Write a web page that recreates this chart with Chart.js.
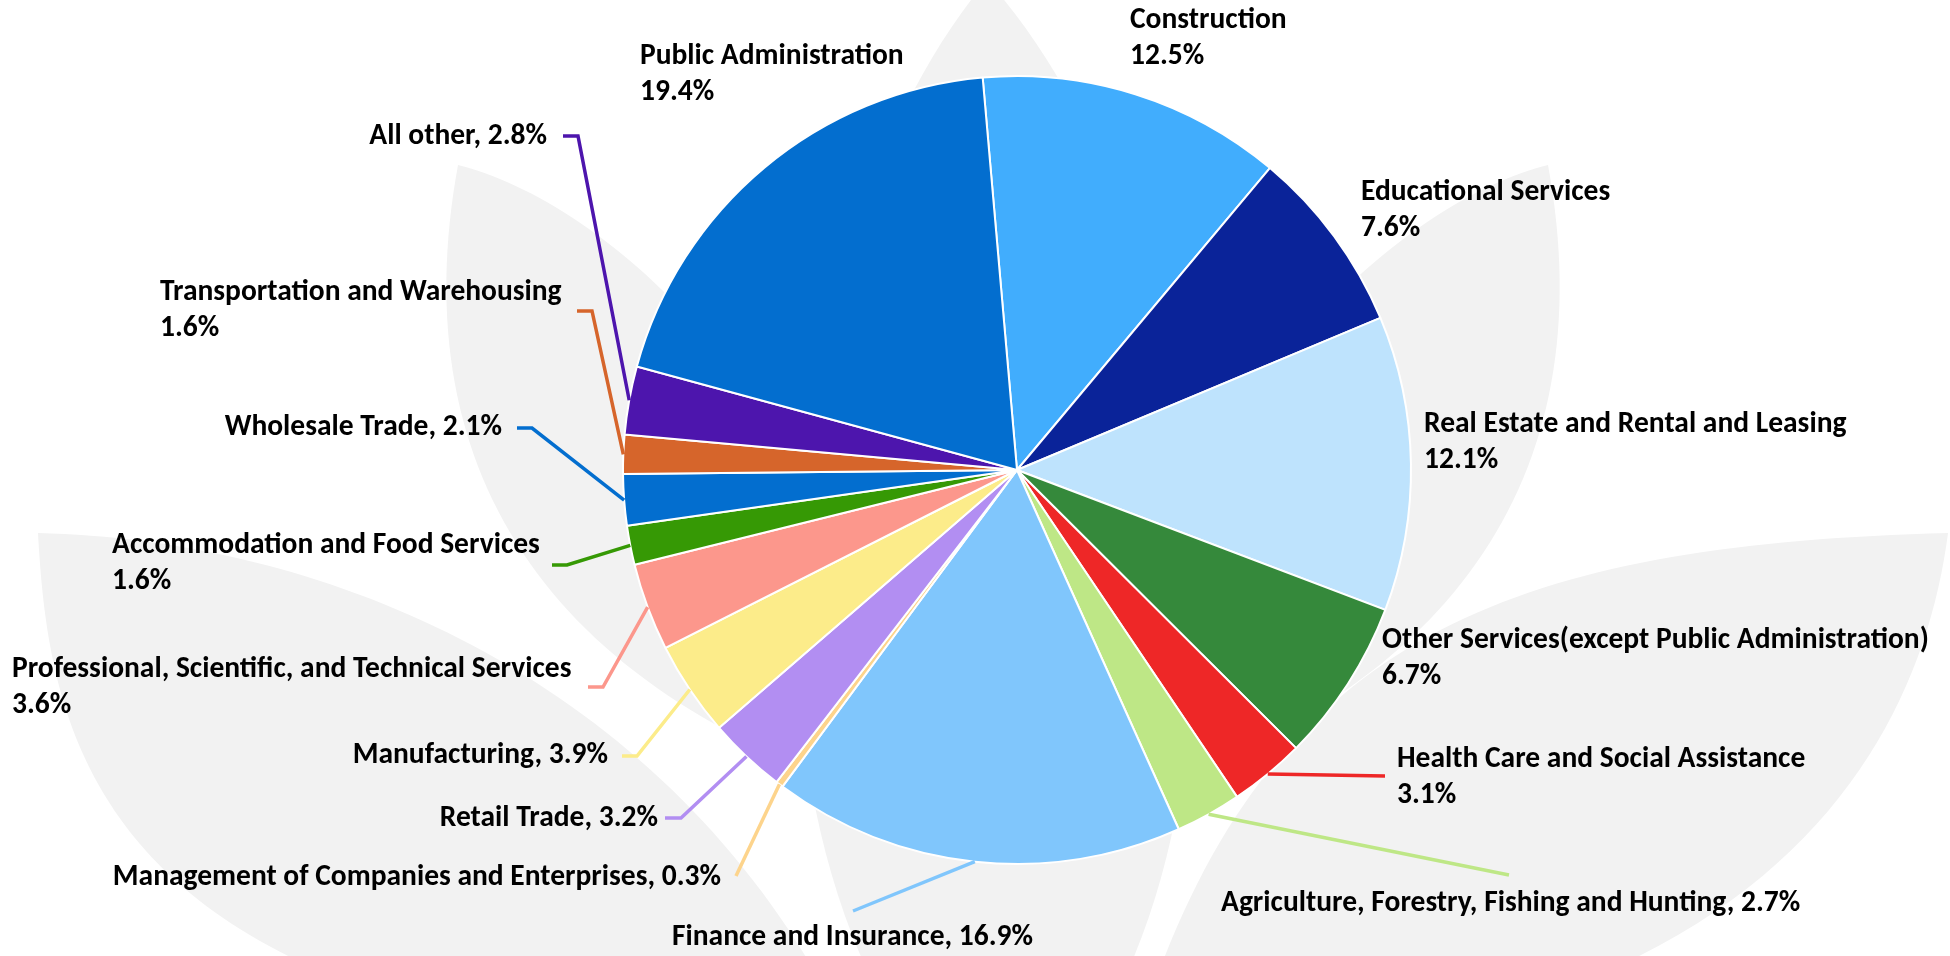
<!DOCTYPE html>
<html>
<head>
<meta charset="utf-8">
<script src="https://cdn.jsdelivr.net/npm/chart.js@4.4.1/dist/chart.umd.min.js"></script>
<style>
html, body { margin: 0; padding: 0; background: #fff; }
#wrap { position: relative; width: 1950px; height: 956px; }
</style>
</head>
<body>
<div id="wrap"><canvas id="myChart"></canvas></div>
<script>
// slices, clockwise from 12 o'clock
let industryNames = ['Construction',
    'Educational Services',
    'Real Estate and Rental and Leasing',
    'Other Services(except Public Administration)',
    'Health Care and Social Assistance',
    'Agriculture, Forestry, Fishing and Hunting',
    'Finance and Insurance',
    'Management of Companies and Enterprises',
    'Retail Trade',
    'Manufacturing',
    'Professional, Scientific, and Technical Services',
    'Accommodation and Food Services',
    'Wholesale Trade',
    'Transportation and Warehousing',
    'All other',
    'Public Administration'];

let industryShares = [12.5, 7.6, 12.1, 6.7, 3.1, 2.7, 16.9, 0.3,
    3.2, 3.9, 3.6, 1.6, 2.1, 1.6, 2.8, 19.4];

let industryColors = ['#41adfd', '#0a2399', '#bee3fd', '#35893b',
    '#ee2727', '#bee786', '#80c6fc', '#fdd48c',
    '#b28ef2', '#fcec8a', '#fc978c', '#369905',
    '#036ecf', '#d6652b', '#4d15ad', '#036ecf'];

// where each label sits, px from the pie centre (for a 394px radius)
// split: name and % on two lines; elbow/tick: leader line bend and end
const labelSpots = [
    { x: 113, y: -449, align: 'left', split: true },
    { x: 344, y: -277, align: 'left', split: true },
    { x: 407, y: -45, align: 'left', split: true },
    { x: 365, y: 171, align: 'left', split: true },
    { x: 380, y: 290, align: 'left', split: true, elbow: [368, 306] },
    { x: 204, y: 434, align: 'left', elbow: [492, 405] },
    { x: -345, y: 468, align: 'left', elbow: [-164, 441] },
    { x: -296, y: 408, align: 'right', elbow: [-281, 406] },
    { x: -359, y: 349, align: 'right', elbow: [-336, 348], tick: -352 },
    { x: -409, y: 286, align: 'right', elbow: [-380, 286], tick: -395 },
    { x: -1005, y: 200, align: 'left', split: true, elbow: [-414, 217], tick: -429 },
    { x: -905, y: 76, align: 'left', split: true, elbow: [-450, 95], tick: -465 },
    { x: -515, y: -42, align: 'right', elbow: [-485, -42], tick: -500 },
    { x: -857, y: -177, align: 'left', split: true, elbow: [-425, -159], tick: -440 },
    { x: -470, y: -333, align: 'right', elbow: [-439, -334], tick: -454 },
    { x: -377, y: -413, align: 'left', split: true }
];

const fontFamily = "Carlito, 'Liberation Sans Narrow', 'Open Sans', sans-serif";

// faint lotus petals behind the pie
const petals = [
    [[987, -20], [760, 250], [700, 900], [1000, 1150], [1290, 900], [1230, 250]],
    [[458, 165], [400, 480], [560, 700], [900, 800], [850, 400], [600, 200]],
    [[1548, 165], [1606, 480], [1446, 700], [1106, 800], [1156, 400], [1406, 200]],
    [[38, 533], [350, 540], [700, 700], [860, 1060], [100, 1050], [50, 750]],
    [[1948, 533], [1500, 545], [1250, 640], [1130, 1060], [1760, 1050], [1920, 750]]
];

const lotusPlugin = {
    id: 'lotus',
    beforeDraw(chart) {
        const ctx = chart.ctx;
        ctx.save();
        ctx.fillStyle = '#f2f2f2';
        petals.forEach(p => {
            ctx.beginPath();
            ctx.moveTo(p[0][0], p[0][1]);
            ctx.bezierCurveTo(p[1][0], p[1][1], p[2][0], p[2][1], p[3][0], p[3][1]);
            ctx.bezierCurveTo(p[4][0], p[4][1], p[5][0], p[5][1], p[0][0], p[0][1]);
            ctx.closePath();
            ctx.fill();
        });
        ctx.restore();
    }
};

const labelPlugin = {
    id: 'leaderLabels',
    afterDatasetsDraw(chart) {
        const ctx = chart.ctx;
        const meta = chart.getDatasetMeta(0);
        ctx.save();
        ctx.font = 'bold 28px ' + fontFamily;
        let fontSize = 28 * 422 / ctx.measureText('Real Estate and Rental and Leasing').width;
        fontSize = Math.min(fontSize, 30);
        meta.data.forEach((arc, i) => {
            const p = arc.getProps(['x', 'y', 'startAngle', 'endAngle', 'outerRadius'], true);
            const k = p.outerRadius / 394;
            const spot = labelSpots[i];
            const mid = (p.startAngle + p.endAngle) / 2;
            if (spot.elbow) {
                const ex = p.x + spot.elbow[0] * k;
                const ey = p.y + spot.elbow[1] * k;
                ctx.strokeStyle = industryColors[i];
                ctx.lineWidth = 3.5;
                ctx.lineJoin = 'miter';
                ctx.beginPath();
                ctx.moveTo(p.x + Math.cos(mid) * p.outerRadius, p.y + Math.sin(mid) * p.outerRadius);
                ctx.lineTo(ex, ey);
                if (spot.tick !== undefined) ctx.lineTo(p.x + spot.tick * k, ey);
                ctx.stroke();
            }
            const pct = industryShares[i].toFixed(1) + '%';
            const lines = spot.split ? [industryNames[i], pct] : [industryNames[i] + ', ' + pct];
            ctx.font = 'bold ' + (fontSize * k).toFixed(1) + 'px ' + fontFamily;
            ctx.fillStyle = '#000';
            ctx.textAlign = spot.align;
            ctx.textBaseline = 'middle';
            lines.forEach((t, j) => {
                ctx.fillText(t, p.x + spot.x * k, p.y + (spot.y + j * 35.5) * k);
            });
        });
        ctx.restore();
    }
};

let chartElement = document.getElementById('myChart').getContext('2d');

let myChart = new Chart(chartElement, {
    type: 'pie',
    data: {
        labels: industryNames,
        datasets: [{
            data: industryShares,
            backgroundColor: industryColors,
            borderColor: '#ffffff',
            borderWidth: 2
        }]
    },
    options: {
        responsive: true,
        maintainAspectRatio: false,
        animation: false,
        rotation: -5,
        layout: { padding: { top: 75, bottom: 91, left: 84, right: 0 } },
        plugins: {
            legend: { display: false },
            tooltip: { enabled: false }
        }
    },
    plugins: [lotusPlugin, labelPlugin]
});
</script>
</body>
</html>
